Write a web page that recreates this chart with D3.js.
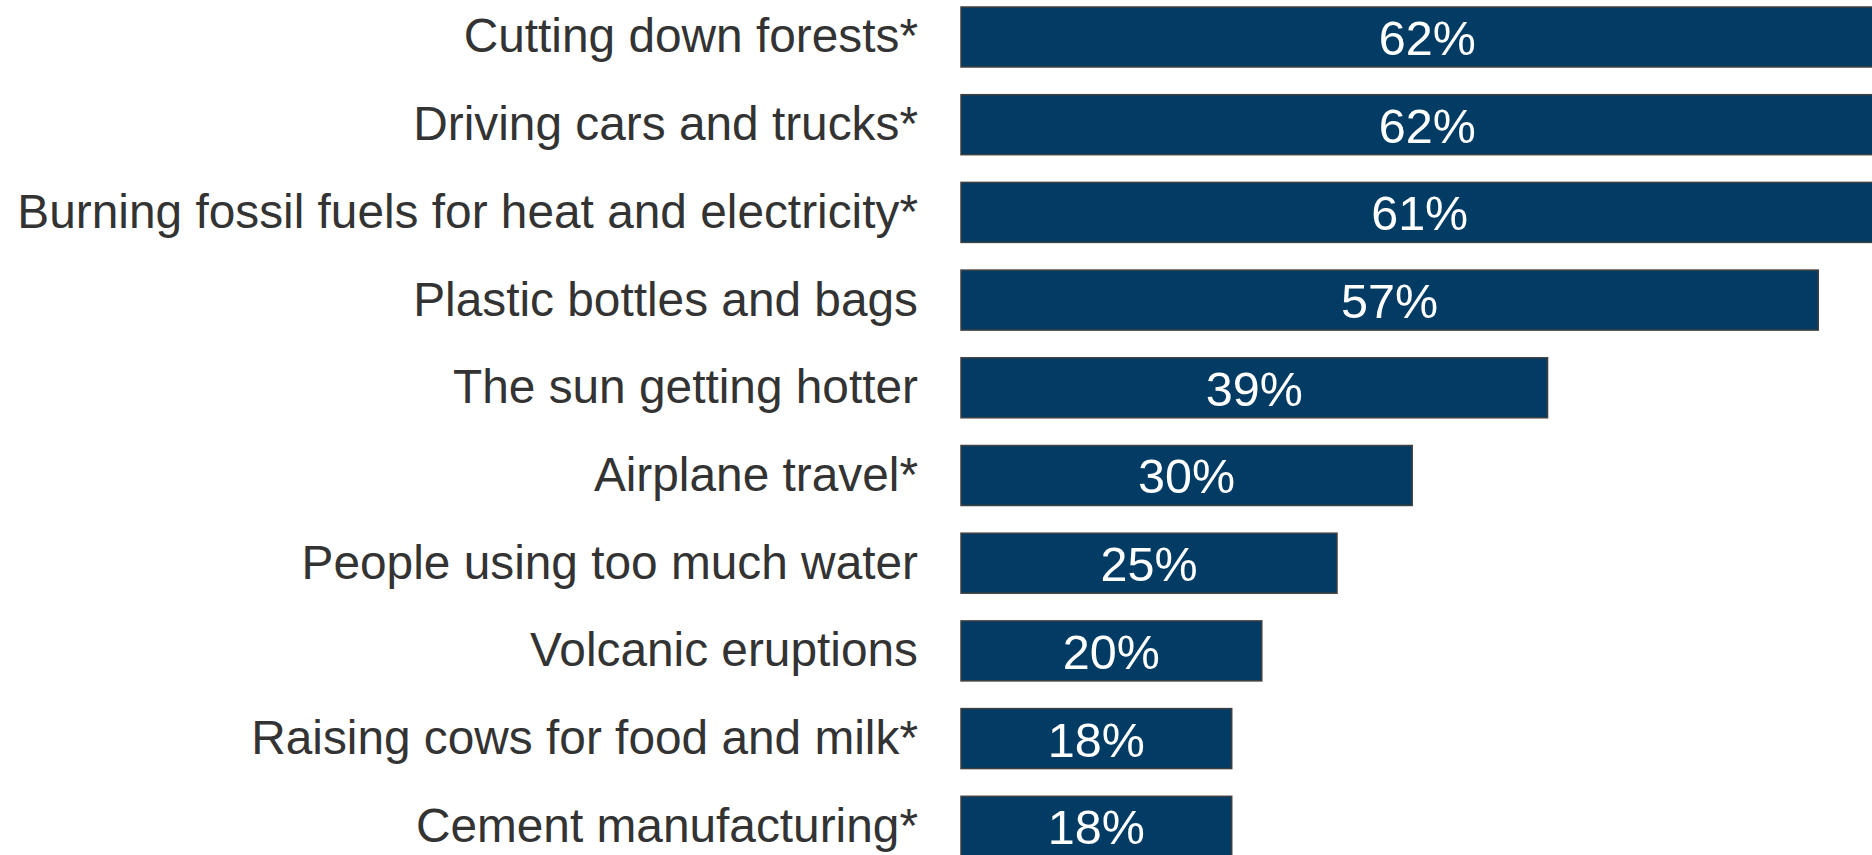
<!DOCTYPE html>
<html>
<head>
<meta charset="utf-8">
<script src="https://cdn.jsdelivr.net/npm/d3@7"></script>
<style>
html,body{margin:0;padding:0;background:#fff;overflow:hidden;}
svg{display:block;}
</style>
</head>
<body>
<svg id="chart" width="1872" height="855"></svg>
<script>
const categories = [
  "Cutting down forests*",
  "Driving cars and trucks*",
  "Burning fossil fuels for heat and electricity*",
  "Plastic bottles and bags",
  "The sun getting hotter",
  "Airplane travel*",
  "People using too much water",
  "Volcanic eruptions",
  "Raising cows for food and milk*",
  "Cement manufacturing*"
];
const values = [62, 62, 61, 57, 39, 30, 25, 20, 18, 18];
const valueLabels = ["62%", "62%", "61%", "57%", "39%", "30%", "25%", "20%", "18%", "18%"];

const svg = d3.select("#chart");
const x = d3.scaleLinear().domain([0, 100]).range([961, 961 + 1504]);
const y = d3.scaleBand().domain(categories).range([-6.86, 870.14]).paddingInner(0.316).paddingOuter(0.158);

const g = svg.append("g");
g.selectAll("rect.bar").data(categories).join("rect")
  .attr("class", "bar")
  .attr("x", x(0))
  .attr("y", d => y(d))
  .attr("width", (d, i) => x(values[i]) - x(0))
  .attr("height", y.bandwidth())
  .attr("fill", "#023b63")
  .attr("stroke", "#404040")
  .attr("stroke-width", 1.5);

g.selectAll("text.val").data(categories).join("text")
  .attr("class", "val")
  .attr("x", (d, i) => (x(0) + x(values[i])) / 2)
  .attr("y", d => y(d) + y.bandwidth() / 2 + 18)
  .attr("text-anchor", "middle")
  .attr("font-family", "'Liberation Sans', Arial, sans-serif")
  .attr("font-size", 48.5)
  .attr("fill", "#ffffff")
  .text((d, i) => valueLabels[i]);

g.selectAll("text.cat").data(categories).join("text")
  .attr("class", "cat")
  .attr("x", 918)
  .attr("y", d => y(d) + y.bandwidth() / 2 + 15.5)
  .attr("text-anchor", "end")
  .attr("font-family", "'Liberation Sans', Arial, sans-serif")
  .attr("font-size", 47.8)
  .attr("fill", "#333333")
  .text(d => d);
</script>
</body>
</html>
